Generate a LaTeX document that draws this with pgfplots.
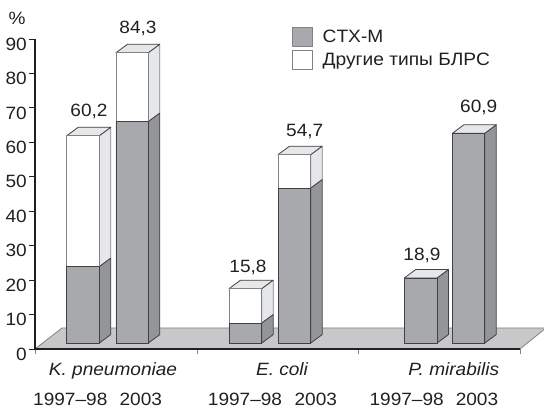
\documentclass[border=0pt]{standalone}
\usepackage{fontspec}
\setmainfont[FakeStretch=1.07]{Liberation Sans}
\usepackage{pgfplots}
\pgfplotsset{compat=1.18}
\definecolor{txt}{HTML}{231F20}
\definecolor{front}{HTML}{A7A9AC}
\definecolor{sidec}{HTML}{939598}
\definecolor{light}{HTML}{E6E7E8}
\definecolor{floorc}{HTML}{C7C8CA}
\definecolor{edgeD}{HTML}{414042}
\definecolor{edgeL}{HTML}{808285}
\newcommand{\lab}[4][]{\node[text=txt,font=\fontsize{17.8}{17.8}\selectfont,inner sep=0pt,anchor=center,yshift=-2.5pt,#1] at (#2pt,{412pt-#3pt}) {\strut\smash{#4}};}
\tikzset{
 face/.style={draw=edgeD,fill=#1,line width=0.8pt,line join=round,yshift=5.9pt},
 lface/.style={draw=edgeL,fill=#1,line width=0.8pt,line join=round,yshift=5.9pt}}
\begin{document}
\begin{tikzpicture}[x=1pt,y=1pt]
\useasboundingbox (0,0) rectangle (544pt,412pt);
\begin{axis}[
 at={(35pt,63pt)},anchor=origin,
 scale only axis,width=485pt,height=310pt,
 xmin=35,xmax=520,ymin=0,ymax=90,
 clip=false,axis on top,
 axis lines=left,
 axis line style={-,line width=1.5pt,color=txt},
 xtick={35,197,358,520},xticklabels={},
 x tick style={color=edgeL,line width=0.8pt},
 ytick={0,10,...,90},
 y tick style={color=txt,line width=0.8pt},
 tick align=outside,major tick length=5.5pt,
 /pgf/number format/assume math mode=true,
 yticklabel style={font=\fontsize{17.8}{17.8}\selectfont,text=txt,yshift=-5pt,inner xsep=0pt,xshift=-2.5pt},
 legend style={at={(291.7pt-35pt,412pt-27pt-63pt)},anchor=north west,draw=none,fill=none,
   font=\fontsize{17.9}{17.9}\selectfont,text=txt,inner sep=0pt,outer sep=0pt,
   row sep=2.4pt,/tikz/every odd column/.append style={column sep=8pt}},
 legend cell align=left,
]
% legend
\addlegendimage{legend image code/.code={\draw[draw=edgeL,fill=front,line width=1pt] (0,-9.5pt) rectangle (20pt,10pt);}}
\addlegendentry{CTX-M}
\addlegendimage{legend image code/.code={\draw[draw=edgeL,fill=white,line width=1pt] (0,-9.5pt) rectangle (20pt,10pt);}}
\addlegendentry{Другие типы БЛРС}
% floor
\addplot[draw=edgeL,fill=floorc,line width=0.8pt,forget plot] coordinates {(35,0) (62,6.1) (546,6.1) (520,0)} \closedcycle;
% white segment sides and tops
\addplot[lface=light,forget plot] coordinates {(99.3,22.2) (110.8,24.67) (110.8,62.67) (99.3,60.2)} --cycle;
\addplot[lface=light,forget plot] coordinates {(148.3,64.3) (159.8,66.77) (159.8,86.77) (148.3,84.3)} --cycle;
\addplot[lface=light,forget plot] coordinates {(261.7,5.8) (273.2,8.27) (273.2,18.27) (261.7,15.8)} --cycle;
\addplot[lface=light,forget plot] coordinates {(310.7,45) (322.2,47.47) (322.2,57.17) (310.7,54.7)} --cycle;
% grey segment sides
\addplot[face=sidec,forget plot] coordinates {(99.3,0) (110.8,2.47) (110.8,24.67) (99.3,22.2)} --cycle;
\addplot[face=sidec,forget plot] coordinates {(148.3,0) (159.8,2.47) (159.8,66.77) (148.3,64.3)} --cycle;
\addplot[face=sidec,forget plot] coordinates {(261.7,0) (273.2,2.47) (273.2,8.27) (261.7,5.8)} --cycle;
\addplot[face=sidec,forget plot] coordinates {(310.7,0) (322.2,2.47) (322.2,47.47) (310.7,45)} --cycle;
\addplot[face=sidec,forget plot] coordinates {(437,0) (448.5,2.47) (448.5,21.37) (437,18.9)} --cycle;
\addplot[face=sidec,forget plot] coordinates {(484.7,0) (496.2,2.47) (496.2,63.37) (484.7,60.9)} --cycle;
% tops
\addplot[face=light,forget plot] coordinates {(66.7,60.2) (99.3,60.2) (110.8,62.67) (78.2,62.67)} --cycle;
\addplot[face=light,forget plot] coordinates {(116,84.3) (148.3,84.3) (159.8,86.77) (127.5,86.77)} --cycle;
\addplot[face=light,forget plot] coordinates {(229,15.8) (261.7,15.8) (273.2,18.27) (240.5,18.27)} --cycle;
\addplot[face=light,forget plot] coordinates {(278,54.7) (310.7,54.7) (322.2,57.17) (289.5,57.17)} --cycle;
\addplot[face=light,forget plot] coordinates {(404.3,18.9) (437,18.9) (448.5,21.37) (415.8,21.37)} --cycle;
\addplot[face=light,forget plot] coordinates {(452.3,60.9) (484.7,60.9) (496.2,63.37) (463.8,63.37)} --cycle;
% totals (white) then CTX-M (grey) front faces
\addplot[ybar,bar shift=0pt,bar width=32.5,lface=white,forget plot] coordinates {(83,60.2) (132.15,84.3) (245.35,15.8) (294.35,54.7)};
\addplot[ybar,bar shift=0pt,bar width=32.5,face=front,forget plot] coordinates {(83,22.2) (132.15,64.3) (245.35,5.8) (294.35,45) (420.65,18.9) (468.5,60.9)};
\end{axis}
\lab{17}{18}{\%}
\lab{89}{110}{60,2}
\lab{138}{27.7}{84,3}
\lab{248}{266}{15,8}
\lab{304.7}{130.7}{54,7}
\lab{422}{254}{18,9}
\lab{478.7}{106}{60,9}
\lab{113}{369}{\itshape K. pneumoniae}
\lab{282}{369}{\itshape E. coli}
\lab{453.8}{369}{\itshape P. mirabilis}
\lab{70.3}{399}{1997--98}
\lab{140.8}{399}{2003}
\lab{245}{399}{1997--98}
\lab{315.8}{399}{2003}
\lab{406.7}{399}{1997--98}
\lab{477}{399}{2003}
\end{tikzpicture}
\end{document}
